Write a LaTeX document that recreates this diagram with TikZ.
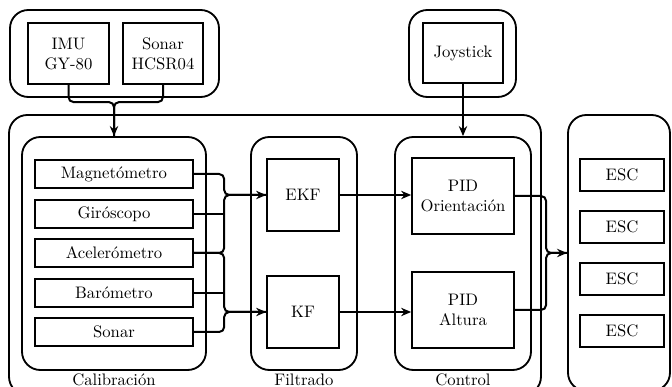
\documentclass[tikz,border=0pt]{standalone}
\usepackage{fontspec}
\usetikzlibrary{arrows.meta}
\tikzset{
  box/.style={draw, line width=1pt, inner sep=0pt, align=center},
  group/.style={draw, line width=1.1pt, rounded corners=11pt, inner sep=0pt},
  conn/.style={line width=1.2pt, rounded corners=3pt},
  arr/.style={conn, -{Stealth[length=6pt,width=5pt]}},
  lab/.style={anchor=base, inner sep=0pt},
  sensbox/.style={box, minimum width=94.8pt, minimum height=16.8pt},
  escbox/.style={box, minimum width=50.4pt, minimum height=19.2pt}
}
\begin{document}
\begin{tikzpicture}[x=0.6pt,y=-0.6pt]
\useasboundingbox (0,0) rectangle (672,387);
\clip (0,0) rectangle (672,387);

% top groups
\node[group, minimum width=125.4pt, minimum height=52.2pt] (sens) at (114.5,53.5) {};
\node[box, minimum width=48.6pt, minimum height=36.6pt] (imu) at (68.5,53.5) {IMU\\GY-80};
\node[box, minimum width=48pt, minimum height=36.6pt] (son) at (163,53.5) {Sonar\\HCSR04};

\node[group, minimum width=64.2pt, minimum height=52.2pt] (joyg) at (462.5,53.5) {};
\node[box, minimum width=48pt, minimum height=36pt] (joy) at (463,53) {Joystick};

% big containers
\node[group, minimum width=319.2pt, minimum height=168pt] (main) at (275,255) {};
\node[group, minimum width=61.2pt, minimum height=165.6pt] (escg) at (619,253) {};

\node[group, minimum width=110.4pt, minimum height=139.8pt] (cal) at (114,253.5) {};
\node[group, minimum width=63.6pt, minimum height=139.8pt] (fil) at (304,253.5) {};
\node[group, minimum width=81.6pt, minimum height=139.8pt] (ctl) at (463,253.5) {};
\node[lab] (lcal) at (114,385.5) {Calibración};
\node[lab] (lfil) at (304,385.5) {Filtrado};
\node[lab] (lctl) at (463,385.5) {Control};

% sensors
\node[sensbox] (mag) at (114,174) {Magnetómetro};
\node[sensbox] (gir) at (114,214) {Giróscopo};
\node[sensbox] (acel) at (114,253) {Acelerómetro};
\node[sensbox] (baro) at (114,293) {Barómetro};
\node[sensbox] (sonr) at (114,332) {Sonar};

% filters
\node[box, minimum width=43.2pt, minimum height=43.2pt] (ekf) at (303,195) {EKF};
\node[box, minimum width=43.2pt, minimum height=43.2pt] (kf) at (303,312) {KF};

% control
\node[box, minimum width=61.2pt, minimum height=45.6pt] (pido) at (463,196) {PID\\Orientación};
\node[box, minimum width=61.2pt, minimum height=45.6pt] (pida) at (463,310) {PID\\Altura};

% ESC
\node[escbox] (esc1) at (622,175) {ESC};
\node[escbox] (esc2) at (622,227) {ESC};
\node[escbox] (esc3) at (622,279) {ESC};
\node[escbox] (esc4) at (622,331) {ESC};

% junctions
\path (ekf.west) ++(-42,0) coordinate (bu);
\path (kf.west) ++(-42,0) coordinate (bl);
\path (escg.west) ++(-21,0) coordinate (bo);
\path (cal.north) ++(0,-34) coordinate (tj);

% top connectors
\draw[conn] (imu.south) |- (tj) -- (cal.north);
\draw[arr] (son.south) |- (tj) -- (cal.north);
\draw[arr] (joy.south) -- (ctl.north);

% sensors to filters
\draw[conn] (mag.east) -| (bu) -- (ekf.west);
\draw[conn] (gir.east) -- (gir.east -| bu);
\draw[arr] (acel.east) -| (bu) -- (ekf.west);
\draw[arr] (acel.east) -| (bl) -- (kf.west);
\draw[conn] (baro.east) -- (baro.east -| bl);
\draw[conn] (sonr.east) -| (bl) -- (kf.west);

% filters to PID
\draw[arr] (ekf.east) -- (ekf.east -| pido.west);
\draw[arr] (kf.east) -- (kf.east -| pida.west);

% PID to ESC
\draw[conn] (pido.east) -| (bo) -- (escg.west);
\draw[arr] (pida.east) -| (bo) -- (escg.west);
\end{tikzpicture}
\end{document}
